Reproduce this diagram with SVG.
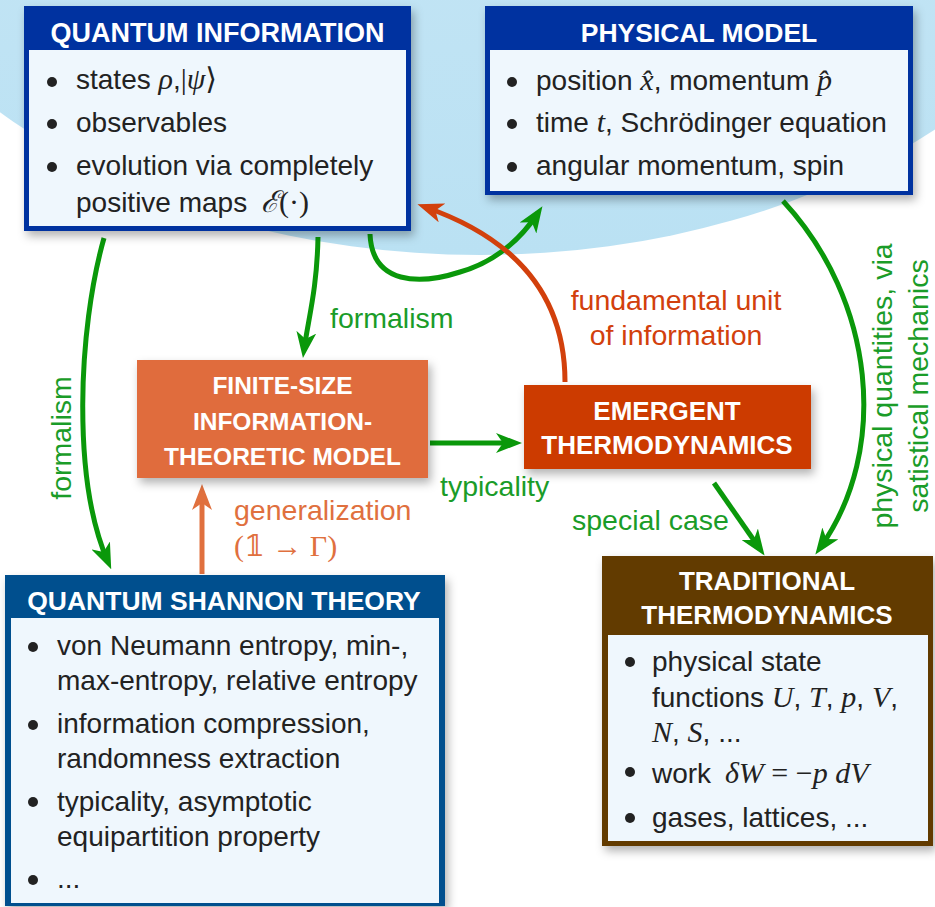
<svg xmlns="http://www.w3.org/2000/svg" width="935" height="907" viewBox="0 0 935 907">
<defs>
<style>
.title{font-family:"Liberation Sans",Arial,sans-serif;font-weight:bold;fill:#fff;text-anchor:middle}
.body{font-family:"Liberation Sans",Arial,sans-serif;font-size:28px;fill:#222}
.m{font-family:"Liberation Serif","DejaVu Serif",serif;font-style:italic;font-size:30px}
.mr{font-family:"Liberation Serif","DejaVu Serif",serif;font-size:30px}
.lab{font-family:"Liberation Sans",Arial,sans-serif;font-size:28.5px}
.g{fill:#1a9c28}
.r{fill:#d2400c}
.o{fill:#e0703e}
.ag{fill:none;stroke:#0a980a;stroke-width:5}
.ar{fill:none;stroke:#d2400c;stroke-width:5}
.ao{fill:none;stroke:#e0703e;stroke-width:5}
.inner{fill:#eff7fd}
</style>
<linearGradient id="bg" x1="0" y1="0" x2="0" y2="1">
<stop offset="0" stop-color="#d0eaf7"/>
<stop offset="1" stop-color="#bae1f3"/>
</linearGradient>
<filter id="sh" x="-10%" y="-10%" width="125%" height="130%">
<feDropShadow dx="3" dy="5" stdDeviation="5" flood-color="#000" flood-opacity="0.3"/>
</filter>
<marker id="hg" markerUnits="userSpaceOnUse" markerWidth="26" markerHeight="20" refX="18" refY="10" orient="auto" viewBox="0 0 26 20">
<path d="M0,0 L26,10 L0,20 L7,10 z" fill="#0a980a"/>
</marker>
<marker id="hr" markerUnits="userSpaceOnUse" markerWidth="26" markerHeight="20" refX="18" refY="10" orient="auto" viewBox="0 0 26 20">
<path d="M0,0 L26,10 L0,20 L7,10 z" fill="#d2400c"/>
</marker>
<marker id="ho" markerUnits="userSpaceOnUse" markerWidth="26" markerHeight="20" refX="18" refY="10" orient="auto" viewBox="0 0 26 20">
<path d="M0,0 L26,10 L0,20 L7,10 z" fill="#e0703e"/>
</marker>
</defs>

<rect x="0" y="0" width="935" height="907" fill="#fff"/>
<ellipse cx="480" cy="-200" rx="660" ry="455" fill="url(#bg)"/>

<g id="connectors">
<path class="ag" d="M318,237 C317,290 308,320 304,350" marker-end="url(#hg)"/>
<path class="ag" d="M104,238 C78,330 72,480 108,562" marker-end="url(#hg)"/>
<path class="ag" d="M370,234 C372,285 420,285 460,272 C495,262 520,240 538,213" marker-end="url(#hg)"/>
<path class="ar" d="M565,382 C565,300 520,240 425,207" marker-end="url(#hr)"/>
<path class="ag" d="M430,443 L514,443" marker-end="url(#hg)"/>
<path class="ao" d="M202,574 L202,492" marker-end="url(#ho)"/>
<path class="ag" d="M714,483 L760,549" marker-end="url(#hg)"/>
<path class="ag" d="M783,201 C875,300 890,450 820,548" marker-end="url(#hg)"/>
<text class="lab g" x="330" y="328" font-size="28">formalism</text>
<text class="lab g" transform="translate(71,438) rotate(-90)" text-anchor="middle" font-size="27">formalism</text>
<text class="lab r" x="676" y="310" text-anchor="middle" font-size="29">fundamental unit</text>
<text class="lab r" x="676" y="345" text-anchor="middle" font-size="29">of information</text>
<text class="lab g" x="440" y="496" font-size="29">typicality</text>
<text class="lab o" x="234" y="520">generalization</text>
<text class="lab o" x="234" y="556"><tspan class="mr">(𝟙 → Γ)</tspan></text>
<text class="lab g" x="572" y="530" font-size="26">special case</text>
<text class="lab g" transform="translate(892,386) rotate(-90)" text-anchor="middle" font-size="29">physical quantities, via</text>
<text class="lab g" transform="translate(928,386) rotate(-90)" text-anchor="middle" font-size="29">satistical mechanics</text>
</g>

<g id="quantum-information">
<rect x="24" y="6" width="387" height="225" fill="#0033a0" filter="url(#sh)"/>
<rect class="inner" x="29" y="50" width="377" height="176"/>
<text class="title" x="217.5" y="42" font-size="27">QUANTUM INFORMATION</text>
<circle cx="52" cy="82" r="5" fill="#222"/>
<circle cx="52" cy="124" r="5" fill="#222"/>
<circle cx="52" cy="167" r="5" fill="#222"/>
<text class="body" x="76" y="89">states <tspan class="m">ρ</tspan>,<tspan class="mr">|</tspan><tspan class="m">ψ</tspan><tspan class="mr">⟩</tspan></text>
<text class="body" x="76" y="132">observables</text>
<text class="body" x="76" y="175">evolution via completely</text>
<text class="body" x="76" y="212">positive maps <tspan class="m" dx="6">ℰ</tspan><tspan class="mr">(·)</tspan></text>
</g>

<g id="physical-model">
<rect x="485" y="6" width="428" height="189" fill="#0033a0" filter="url(#sh)"/>
<rect class="inner" x="490" y="50" width="418" height="141"/>
<text class="title" x="699" y="42" font-size="26.5">PHYSICAL MODEL</text>
<circle cx="512" cy="82" r="5" fill="#222"/>
<circle cx="512" cy="124" r="5" fill="#222"/>
<circle cx="512" cy="167" r="5" fill="#222"/>
<text class="body" x="536" y="90">position <tspan class="m">x̂</tspan>, momentum <tspan class="m">p̂</tspan></text>
<text class="body" x="536" y="132">time <tspan class="m">t</tspan>, Schrödinger equation</text>
<text class="body" x="536" y="175">angular momentum, spin</text>
</g>

<g id="finite-size-model">
<rect x="137" y="360" width="291" height="118" fill="#e06c3c" filter="url(#sh)"/>
<text class="title" x="282.5" y="394" font-size="24.5">FINITE-SIZE</text>
<text class="title" x="282.5" y="430" font-size="24.5">INFORMATION-</text>
<text class="title" x="282.5" y="465" font-size="24.5">THEORETIC MODEL</text>
</g>

<g id="emergent-thermodynamics">
<rect x="524" y="385" width="287" height="84" fill="#cc3b00" filter="url(#sh)"/>
<text class="title" x="667" y="420" font-size="26">EMERGENT</text>
<text class="title" x="667" y="454" font-size="26">THERMODYNAMICS</text>
</g>

<g id="quantum-shannon-theory">
<rect x="5" y="575" width="440" height="331" fill="#03508e" filter="url(#sh)"/>
<rect class="inner" x="11" y="618" width="428" height="285"/>
<text class="title" x="224" y="610" font-size="26.5">QUANTUM SHANNON THEORY</text>
<circle cx="33" cy="647" r="5" fill="#222"/>
<circle cx="33" cy="725" r="5" fill="#222"/>
<circle cx="33" cy="802" r="5" fill="#222"/>
<circle cx="33" cy="880" r="5" fill="#222"/>
<text class="body" x="57" y="655">von Neumann entropy, min-,</text>
<text class="body" x="57" y="690">max-entropy, relative entropy</text>
<text class="body" x="57" y="733">information compression,</text>
<text class="body" x="57" y="768">randomness extraction</text>
<text class="body" x="57" y="811">typicality, asymptotic</text>
<text class="body" x="57" y="846">equipartition property</text>
<text class="body" x="57" y="888">...</text>
</g>

<g id="traditional-thermodynamics">
<rect x="602" y="556" width="331" height="290" fill="#623b00" filter="url(#sh)"/>
<rect class="inner" x="608" y="635" width="320" height="206"/>
<text class="title" x="767" y="590" font-size="26">TRADITIONAL</text>
<text class="title" x="767" y="624" font-size="26">THERMODYNAMICS</text>
<circle cx="630" cy="662" r="5" fill="#222"/>
<circle cx="630" cy="772" r="5" fill="#222"/>
<circle cx="630" cy="818" r="5" fill="#222"/>
<text class="body" x="652" y="671">physical state</text>
<text class="body" x="652" y="707">functions <tspan class="m">U</tspan>, <tspan class="m">T</tspan>, <tspan class="m">p</tspan>, <tspan class="m">V</tspan>,</text>
<text class="body" x="652" y="742"><tspan class="m">N</tspan>, <tspan class="m">S</tspan>, ...</text>
<text class="body" x="652" y="783">work <tspan class="m" dx="6">δW</tspan><tspan class="mr"> = −</tspan><tspan class="m">p dV</tspan></text>
<text class="body" x="652" y="827">gases, lattices, ...</text>
</g>
</svg>
